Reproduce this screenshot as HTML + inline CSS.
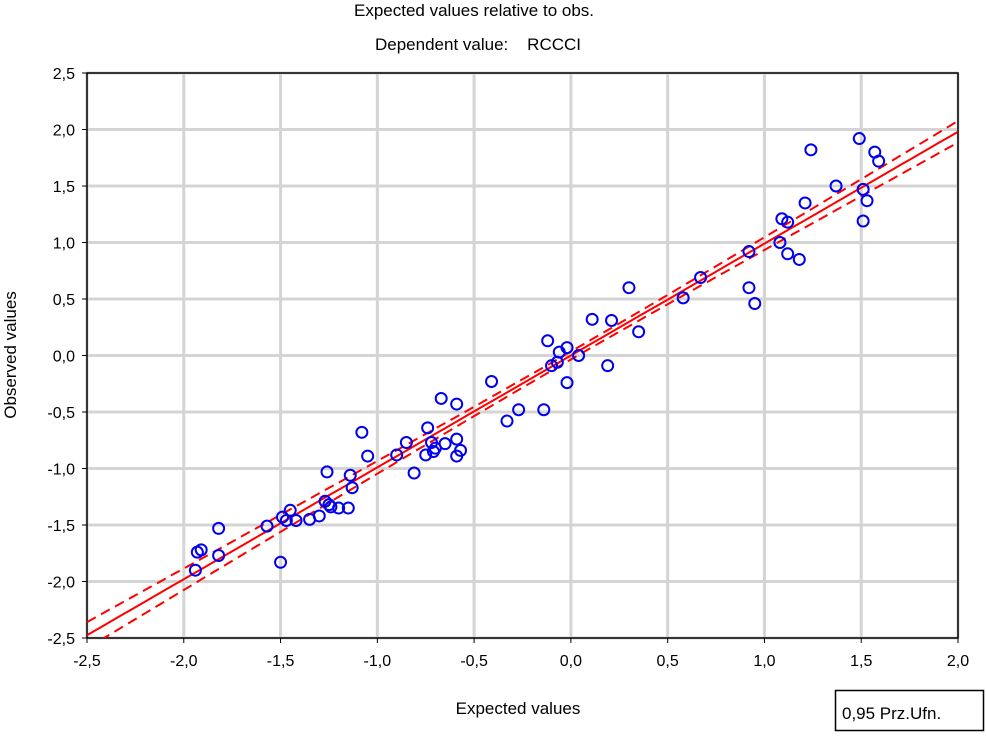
<!DOCTYPE html>
<html><head><meta charset="utf-8"><style>
body{margin:0;background:#fff;font-family:"Liberation Sans",Arial,sans-serif}
svg text{font-family:"Liberation Sans",Arial,sans-serif;fill:#000}
</style></head><body>
<svg id="c" width="986" height="733">
<text x="474" y="16" font-size="17" text-anchor="middle">Expected values relative to obs.</text>
<text x="478" y="50" font-size="17" text-anchor="middle" style="white-space:pre">Dependent value:    RCCCI</text>
<text transform="translate(16,355) rotate(-90)" font-size="17" text-anchor="middle">Observed values</text>
<text x="518" y="714" font-size="17" text-anchor="middle">Expected values</text>
<g>
<rect x="835.5" y="690.5" width="148" height="40" fill="#fff" stroke="#000" stroke-width="1.5"/>
<text x="842" y="719" font-size="17">0,95 Prz.Ufn.</text>
</g>
<g id="grid"></g><g id="axes"></g><g id="marks"></g>
</svg>
<script>
const xTicks=[-2.5,-2.0,-1.5,-1.0,-0.5,0.0,0.5,1.0,1.5,2.0];
const yTicks=[-2.5,-2.0,-1.5,-1.0,-0.5,0.0,0.5,1.0,1.5,2.0,2.5];
const xTickLabels=["-2,5","-2,0","-1,5","-1,0","-0,5","0,0","0,5","1,0","1,5","2,0"];
const yTickLabels=["-2,5","-2,0","-1,5","-1,0","-0,5","0,0","0,5","1,0","1,5","2,0","2,5"];
const expectedVals=[-1.94,-1.93,-1.91,-1.82,-1.82,-1.57,-1.50,-1.49,-1.47,-1.45,-1.42,-1.35,-1.30,-1.27,-1.26,-1.25,-1.24,-1.20,-1.15,-1.14,-1.13,-1.08,-1.05,-0.90,-0.85,-0.81,-0.75,-0.74,-0.72,-0.71,-0.70,-0.67,-0.65,-0.59,-0.59,-0.59,-0.57,-0.41,-0.33,-0.27,-0.14,-0.12,-0.10,-0.07,-0.06,-0.02,-0.02,0.04,0.11,0.19,0.21,0.30,0.35,0.58,0.67,0.92,0.92,0.95,1.08,1.09,1.12,1.12,1.18,1.21,1.24,1.37,1.49,1.51,1.53,1.51,1.57,1.59];
const observedVals=[-1.90,-1.74,-1.72,-1.53,-1.77,-1.51,-1.83,-1.43,-1.46,-1.37,-1.46,-1.45,-1.42,-1.29,-1.03,-1.32,-1.34,-1.35,-1.35,-1.06,-1.17,-0.68,-0.89,-0.88,-0.77,-1.04,-0.88,-0.64,-0.77,-0.85,-0.82,-0.38,-0.78,-0.74,-0.89,-0.43,-0.84,-0.23,-0.58,-0.48,-0.48,0.13,-0.09,-0.06,0.03,0.07,-0.24,0.00,0.32,-0.09,0.31,0.60,0.21,0.51,0.69,0.60,0.92,0.46,1.00,1.21,1.18,0.90,0.85,1.35,1.82,1.50,1.92,1.47,1.37,1.19,1.80,1.72];
const fitSlope=0.99, fitIntercept=0.0, ciBase=0.035, ciSpread=1.6;
const L=87,R=958,T=73,B=638;
const sx=v=>L+(v+2.5)/4.5*(R-L);
const sy=v=>B-(v+2.5)/5*(B-T);
const NS="http://www.w3.org/2000/svg";
function mk(t,a,p){const e=document.createElementNS(NS,t);for(const k in a)e.setAttribute(k,a[k]);p.appendChild(e);return e;}
const grid=document.getElementById('grid'),axes=document.getElementById('axes'),marks=document.getElementById('marks');
xTicks.forEach((v,i)=>{
 const x=sx(v);
 const g=mk('line',{x1:x,x2:x,y1:T,y2:B,stroke:'#d4d4d4','stroke-width':3},grid);
 
 
 mk('line',{x1:x,x2:x,y1:B,y2:B+5,stroke:'#000'},axes);
 const t=mk('text',{x:x,y:B+28,'font-size':16,'text-anchor':'middle'},axes);
 t.textContent=xTickLabels[i];
 
 
});
yTicks.forEach((v,i)=>{
 const y=sy(v);
 const g=mk('line',{x1:L,x2:R,y1:y,y2:y,stroke:'#d4d4d4','stroke-width':3},grid);
 
 
 mk('line',{x1:L-5,x2:L,y1:y,y2:y,stroke:'#000'},axes);
 const t=mk('text',{x:L-12,y:y+6,'font-size':16,'text-anchor':'end'},axes);
 t.textContent=yTickLabels[i];
 
 
});
const fr=mk('rect',{x:L,y:T,width:R-L,height:B-T,fill:'none',stroke:'#000','stroke-width':1.5},axes);


const cp=mk('clipPath',{id:'clip'},marks);mk('rect',{x:L,y:T,width:R-L,height:B-T},cp);
const mg=mk('g',{'clip-path':'url(#clip)'},marks);
function band(sign){let d='';for(let i=0;i<=90;i++){const x=-2.5+i*0.05;const hw=ciBase*Math.sqrt(1+ciSpread*x*x);const y=fitIntercept+fitSlope*x+sign*hw;d+=(i?'L':'M')+sx(x).toFixed(1)+','+sy(y).toFixed(1);}return d;}
const fl=mk('path',{d:band(0),stroke:'#f00','stroke-width':2,fill:'none'},mg);


[1,-1].forEach(s=>{const p=mk('path',{d:band(s),stroke:'#f00','stroke-width':2,fill:'none','stroke-dasharray':'10,6'},mg);
 
 });
expectedVals.forEach((v,i)=>{
 const c=mk('circle',{cx:sx(v),cy:sy(observedVals[i]),r:5.5,fill:'none',stroke:'#0000ee','stroke-width':2},mg);
 
 
});
</script>
</body></html>
